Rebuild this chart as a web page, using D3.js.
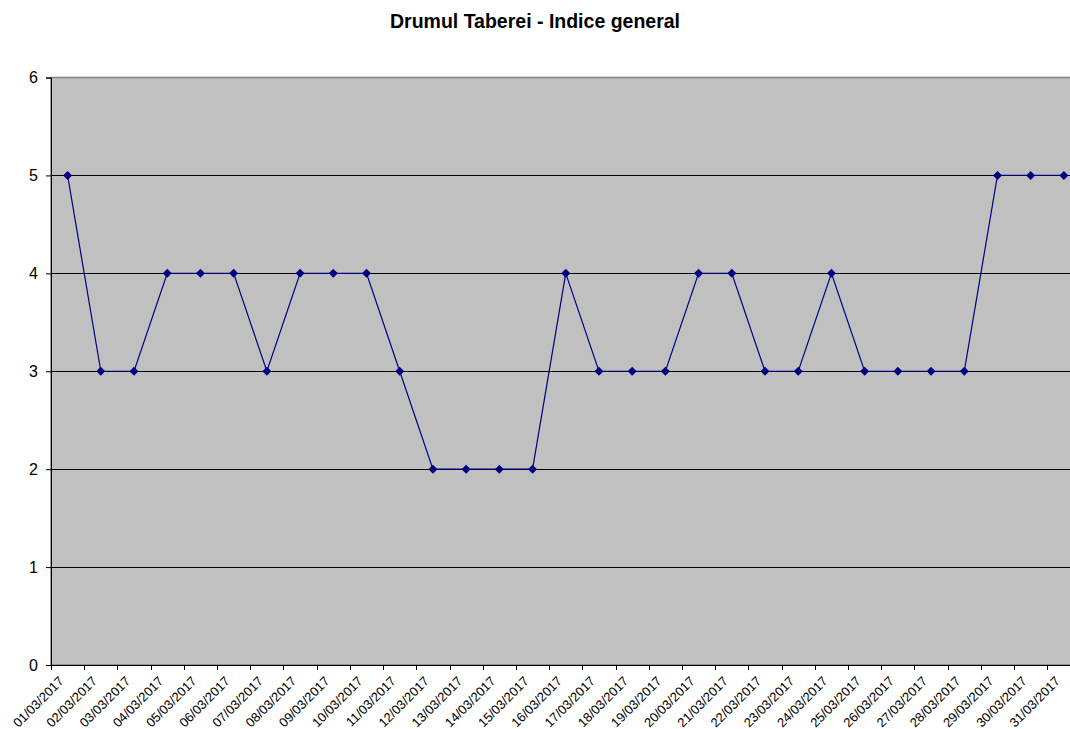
<!DOCTYPE html>
<html>
<head>
<meta charset="utf-8">
<script src="https://cdn.jsdelivr.net/npm/d3@7/dist/d3.min.js"></script>
<style>
  body { margin: 0; background: #ffffff; }
  svg { display: block; font-family: "Liberation Sans", Arial, sans-serif; }
</style>
</head>
<body>
<svg id="chart"></svg>
<script>
// date labels, one per day of March 2017
var days = ["01/03/2017", "02/03/2017", "03/03/2017", "04/03/2017", "05/03/2017", "06/03/2017",
    "07/03/2017", "08/03/2017", "09/03/2017", "10/03/2017", "11/03/2017", "12/03/2017",
    "13/03/2017", "14/03/2017", "15/03/2017", "16/03/2017", "17/03/2017", "18/03/2017",
    "19/03/2017", "20/03/2017", "21/03/2017", "22/03/2017", "23/03/2017", "24/03/2017",
    "25/03/2017", "26/03/2017", "27/03/2017", "28/03/2017", "29/03/2017", "30/03/2017",
    "31/03/2017"];

// indice general
var indice = [5, 3, 3, 4, 4, 4, 3, 4, 4, 4, 3, 2, 2, 2, 2, 4, 3, 3, 3, 4, 4, 3, 3, 4, 3, 3, 3, 3, 5, 5, 5];

var yTicks = [0, 1, 2, 3, 4, 5, 6];

var title = "Drumul Taberei - Indice general";

//layout
var width = 1070;
var height = 729;
var plot_left = 51;
var plot_top = 77.5;
var plot_bottom = 665;
var cat_w = 33.21;
var plot_right = plot_left + cat_w * days.length; // runs past the page edge

var svg = d3.select("#chart").attr("width", width).attr("height", height);

var x = d3.scaleBand().domain(days).range([plot_left, plot_right]);
var y = d3.scaleLinear().domain([0, 6]).range([plot_bottom, plot_top]);

//plot area
svg.append("rect").attr("x", plot_left).attr("y", plot_top)
    .attr("width", plot_right - plot_left).attr("height", plot_bottom - plot_top)
    .style("fill", "#c0c0c0").style("stroke", "#808080").style("stroke-width", 1.5);

//grid lines
svg.append("g").selectAll("line").data(yTicks.filter(t => t > 0 && t < 6)).enter().append("line")
    .attr("x1", plot_left).attr("x2", plot_right)
    .attr("y1", d => Math.round(y(d)) + 0.5).attr("y2", d => Math.round(y(d)) + 0.5)
    .style("stroke", "#000000").style("stroke-width", 1);

//y axis
var yAxis = svg.append("g").attr("transform", `translate(${plot_left},0)`)
    .call(d3.axisLeft(y).tickValues(yTicks).tickSize(5).tickPadding(8).tickFormat(d3.format("d")));
yAxis.selectAll("text").style("font-size", "16px").style("fill", "#000");
yAxis.selectAll("line").style("stroke", "#000");
yAxis.select(".domain").style("stroke", "#000");

//x axis, ticks on category boundaries
var xg = svg.append("g").attr("transform", `translate(0,${plot_bottom})`);
xg.append("line").attr("x1", plot_left).attr("x2", plot_right).attr("y1", 0.5).attr("y2", 0.5)
    .style("stroke", "#000");
xg.selectAll(".tick").data(d3.range(days.length + 1)).enter().append("line")
    .attr("x1", i => Math.round(plot_left + i * x.step()) + 0.5)
    .attr("x2", i => Math.round(plot_left + i * x.step()) + 0.5)
    .attr("y1", 0).attr("y2", 5).style("stroke", "#000");

xg.selectAll("text").data(days).enter().append("text")
    .attr("transform", d => `translate(${x(d) + x.bandwidth() / 2 - 3},${17}) rotate(-45)`)
    .attr("text-anchor", "end")
    .style("font-size", "13px").style("fill", "#000")
    .text(d => d);

//series line
var line = d3.line().x((d, i) => x(days[i]) + x.bandwidth() / 2).y(d => y(d));
svg.append("path").datum(indice).attr("d", line)
    .style("fill", "none").style("stroke", "#000080").style("stroke-width", 1.2);

//diamond markers
svg.append("g").selectAll("path").data(indice).enter().append("path")
    .attr("transform", (d, i) => `translate(${x(days[i]) + x.bandwidth() / 2},${y(d)})`)
    .attr("d", "M0,-4.5L4.5,0L0,4.5L-4.5,0Z")
    .style("fill", "#000080");

//title
svg.append("text").attr("x", 535).attr("y", 28).attr("text-anchor", "middle")
    .style("font-size", "19.5px").style("font-weight", "bold").style("fill", "#000")
    .text(title);
</script>
</body>
</html>
